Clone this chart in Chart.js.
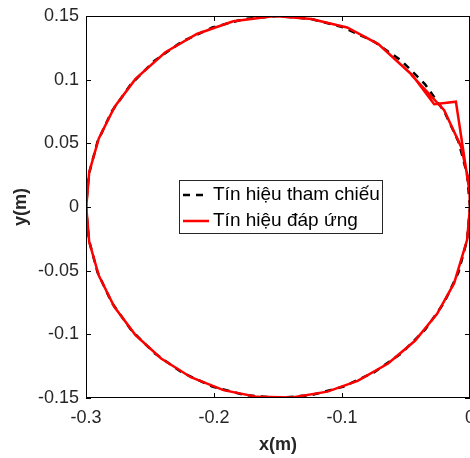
<!DOCTYPE html>
<html>
<head>
<meta charset="utf-8">
<script src="https://cdn.jsdelivr.net/npm/chart.js@4.4.0/dist/chart.umd.min.js"></script>
<style>
  html, body { margin: 0; padding: 0; background: #fff; }
</style>
</head>
<body>
<canvas id="circleChart" width="470" height="458"></canvas>
<script>
// Quỹ đạo tham chiếu: đường tròn tâm (-0.15, 0), bán kính 0.15
const refX = [0, -0.0023, -0.009, -0.0201, -0.0351, -0.0536, -0.075, -0.0987, -0.124, -0.15,
  -0.176, -0.2013, -0.225, -0.2464, -0.2649, -0.2799, -0.291, -0.2977, -0.3,
  -0.2977, -0.291, -0.2799, -0.2649, -0.2464, -0.225, -0.2013, -0.176, -0.15,
  -0.124, -0.0987, -0.075, -0.0536, -0.0351, -0.0201, -0.009, -0.0023, 0];
const refY = [0, 0.026, 0.0513, 0.075, 0.0964, 0.1149, 0.1299, 0.141, 0.1477, 0.15,
  0.1477, 0.141, 0.1299, 0.1149, 0.0964, 0.075, 0.0513, 0.026, 0,
  -0.026, -0.0513, -0.075, -0.0964, -0.1149, -0.1299, -0.141, -0.1477, -0.15,
  -0.1477, -0.141, -0.1299, -0.1149, -0.0964, -0.075, -0.0513, -0.026, 0];

// Quỹ đạo đáp ứng
const respX = [-0.0004, -0.011, -0.028, -0.045, -0.0716, -0.096, -0.124, -0.1526, -0.185, -0.2134,
  -0.238, -0.2613, -0.2776, -0.29, -0.2975, -0.2998, -0.2975, -0.29, -0.2779, -0.2615,
  -0.2413, -0.2181, -0.1926, -0.1662, -0.139, -0.1114, -0.0878, -0.064, -0.043, -0.0257,
  -0.0124, -0.0023, 0, -0.0006, -0.0069, -0.0202, -0.046];
const respY = [0.012, 0.0827, 0.0807, 0.1035, 0.1279, 0.141, 0.1477, 0.15, 0.1459, 0.1359,
  0.1215, 0.1006, 0.0788, 0.0538, 0.0273, 0, -0.0273, -0.0538, -0.0784, -0.1004,
  -0.119, -0.1337, -0.1438, -0.1491, -0.1496, -0.145, -0.1365, -0.1229, -0.1051, -0.0839,
  -0.0598, -0.026, 0, 0.0183, 0.0471, 0.076, 0.104];

const xTickVals = [-0.3, -0.2, -0.1, 0];
const xTickLabels = ['-0.3', '-0.2', '-0.1', '0'];
const yTickVals = [-0.15, -0.1, -0.05, 0, 0.05, 0.1, 0.15];
const yTickLabels = ['-0.15', '-0.1', '-0.05', '0', '0.05', '0.1', '0.15'];
const seriesLabels = ['Tín hiệu tham chiếu', 'Tín hiệu đáp ứng'];

const FONT = "'Liberation Sans', Arial, sans-serif";

// khung hộp, vạch chia hướng vào trong và chú thích
const boxPlugin = {
  id: 'boxPlugin',
  afterDatasetsDraw(chart) {
    const { ctx, chartArea: a, scales: { x, y } } = chart;
    ctx.save();
    ctx.strokeStyle = '#000';
    ctx.lineWidth = 1;
    ctx.setLineDash([]);
    ctx.strokeRect(a.left + 0.5, a.top + 0.5, a.right - a.left - 1, a.bottom - a.top - 1);
    ctx.beginPath();
    xTickVals.forEach(v => {
      const px = Math.round(x.getPixelForValue(v)) + 0.5;
      ctx.moveTo(px, a.bottom); ctx.lineTo(px, a.bottom - 5);
      ctx.moveTo(px, a.top); ctx.lineTo(px, a.top + 5);
    });
    yTickVals.forEach(v => {
      const py = Math.round(y.getPixelForValue(v)) + 0.5;
      ctx.moveTo(a.left, py); ctx.lineTo(a.left + 5, py);
      ctx.moveTo(a.right, py); ctx.lineTo(a.right - 5, py);
    });
    ctx.stroke();

    // chú thích
    ctx.fillStyle = '#fff';
    ctx.fillRect(179.5, 180.5, 203, 53);
    ctx.strokeStyle = '#262626';
    ctx.strokeRect(179.5, 180.5, 203, 53);
    const rows = [195, 221];
    ctx.font = '19px ' + FONT;
    ctx.textBaseline = 'middle';
    ctx.textAlign = 'left';
    chart.data.datasets.forEach((ds, i) => {
      const ry = rows[i];
      ctx.strokeStyle = ds.borderColor;
      ctx.lineWidth = ds.borderWidth;
      ctx.setLineDash(ds.borderDash || []);
      ctx.beginPath();
      ctx.moveTo(183, ry); ctx.lineTo(209, ry);
      ctx.stroke();
      ctx.fillStyle = '#000';
      ctx.fillText(ds.label, 213, ry);
    });
    ctx.restore();
  }
};

const toPoints = (xs, ys) => xs.map((v, i) => ({ x: v, y: ys[i] }));

new Chart(document.getElementById('circleChart').getContext('2d'), {
  type: 'scatter',
  data: {
    datasets: [{
      label: seriesLabels[0],
      data: toPoints(refX, refY),
      showLine: true,
      borderColor: '#000',
      borderWidth: 2.5,
      borderDash: [7, 6],
      pointRadius: 0,
      fill: false,
      order: 2
    }, {
      label: seriesLabels[1],
      data: toPoints(respX, respY),
      showLine: true,
      borderColor: '#ff0000',
      borderWidth: 2.5,
      pointRadius: 0,
      fill: false,
      order: 1
    }]
  },
  options: {
    responsive: false,
    animation: false,
    devicePixelRatio: 1,
    layout: { padding: { top: 16, right: 0, left: 0, bottom: 0 } },
    plugins: {
      legend: { display: false },
      tooltip: { enabled: false }
    },
    scales: {
      x: {
        type: 'linear',
        min: -0.3,
        max: 0,
        grid: { display: false, drawTicks: false },
        border: { display: false },
        afterBuildTicks: s => { s.ticks = xTickVals.map(v => ({ value: v })); },
        afterFit: s => { s.height = 60; s.paddingLeft = 0; s.paddingRight = 0; },
        ticks: {
          padding: 9,
          color: '#262626',
          font: { family: FONT, size: 18 },
          maxRotation: 0,
          callback: v => xTickLabels[xTickVals.indexOf(v)]
        },
        title: {
          display: true,
          text: 'x(m)',
          color: '#262626',
          padding: { top: 0, bottom: 2 },
          font: { family: FONT, size: 18, weight: 'bold' }
        }
      },
      y: {
        type: 'linear',
        min: -0.15,
        max: 0.15,
        grid: { display: false, drawTicks: false },
        border: { display: false },
        afterBuildTicks: s => { s.ticks = yTickVals.map(v => ({ value: v })); },
        afterFit: s => { s.width = 86; s.paddingTop = 0; s.paddingBottom = 0; },
        ticks: {
          padding: 7,
          color: '#262626',
          font: { family: FONT, size: 18 },
          callback: v => yTickLabels[yTickVals.indexOf(v)]
        },
        title: {
          display: true,
          text: 'y(m)',
          color: '#262626',
          padding: { top: 10, bottom: 0 },
          font: { family: FONT, size: 18, weight: 'bold' }
        }
      }
    }
  },
  plugins: [boxPlugin]
});
</script>
</body>
</html>
